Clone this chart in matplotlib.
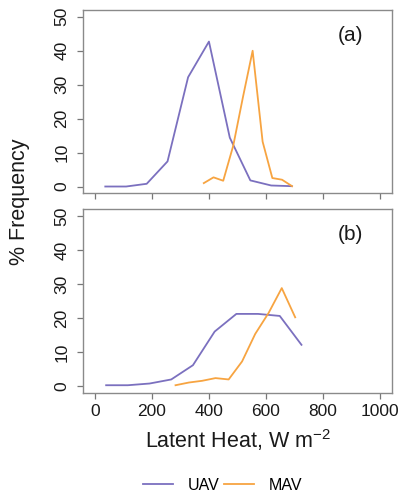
import matplotlib
matplotlib.use("Agg")
import matplotlib.pyplot as plt

plt.rcParams['font.family'] = ['Liberation Sans', 'DejaVu Sans']
plt.rcParams['mathtext.fontset'] = 'custom'
plt.rcParams['mathtext.rm'] = 'Liberation Sans'
plt.rcParams['mathtext.it'] = 'Liberation Sans'

# panel (a)
uav_a_x = [37, 110, 182, 255, 327, 400, 473, 545, 618, 690]
uav_a_y = [0, 0, 0.8, 7.4, 32.2, 42.7, 14.4, 1.8, 0.3, 0.1]
mav_a_x = [382, 416, 450, 485, 519, 553, 588, 622, 656, 691]
mav_a_y = [1.0, 2.7, 1.7, 12.0, 26.3, 40.0, 13.2, 2.5, 2.0, 0.1]

# panel (b)
uav_b_x = [40, 116, 192, 268, 344, 420, 496, 572, 648, 724]
uav_b_y = [0.2, 0.2, 0.7, 1.9, 6.1, 16.0, 21.2, 21.2, 20.6, 12.1]
mav_b_x = [283, 330, 376, 423, 469, 516, 562, 609, 655, 702]
mav_b_y = [0.2, 1.0, 1.5, 2.3, 1.9, 7.2, 15.3, 21.5, 28.8, 20.2]

x_ticks = [0, 200, 400, 600, 800, 1000]
y_ticks = [0, 10, 20, 30, 40, 50]
panel_labels = ['(a)', '(b)']

c_uav = '#7b70bf'
c_mav = '#f7a441'
c_frame = '#8a8a8a'

W, H = 400, 498
fig = plt.figure(figsize=(4, 4.98), dpi=100)
ax_a = fig.add_axes([83.3 / W, 1 - 193.3 / H, 308.4 / W, 183.3 / H])
ax_b = fig.add_axes([83.3 / W, 1 - 392.7 / H, 308.4 / W, 183.4 / H])

panels = [(ax_a, uav_a_x, uav_a_y, mav_a_x, mav_a_y),
          (ax_b, uav_b_x, uav_b_y, mav_b_x, mav_b_y)]

for i, (ax, ux, uy, mx, my) in enumerate(panels):
    ax.plot(ux, uy, color=c_uav, lw=1.3, label='UAV')
    ax.plot(mx, my, color=c_mav, lw=1.3, label='MAV')
    ax.set_xlim(-40, 1040)
    ax.set_ylim(-2, 52)
    ax.set_xticks(x_ticks)
    ax.set_yticks(y_ticks)
    for s in ax.spines.values():
        s.set_color(c_frame)
        s.set_linewidth(1.0)
    ax.tick_params(direction='out', length=4, width=0.9, color='#777777',
                   labelsize=12.5, labelcolor='#1a1a1a')
    ax.tick_params(axis='x', pad=4)
    ax.tick_params(axis='y', pad=6, labelrotation=90)
    for lab in ax.get_yticklabels():
        lab.set_va('center')
    ax.text(895, 44.5, panel_labels[i], fontsize=15, ha='center', va='center',
            color='#1a1a1a')

ax_a.tick_params(axis='x', labelbottom=False)

fig.text(237.5 / W, 1 - 440 / H, r'Latent Heat, W m$^{-2}$', fontsize=15.5,
         ha='center', va='center', color='#1a1a1a')
fig.text(20 / W, 1 - 202 / H, '% Frequency', fontsize=15.5, rotation=90,
         ha='center', va='center', color='#1a1a1a')

handles, labels = ax_a.get_legend_handles_labels()
fig.legend(handles, labels, loc='center', bbox_to_anchor=(222.5 / W, 1 - 485 / H),
           ncol=2, frameon=False, fontsize=11.5, handlelength=1.9,
           handletextpad=0.9, columnspacing=0.3)

fig.savefig('out.png', dpi=100)
